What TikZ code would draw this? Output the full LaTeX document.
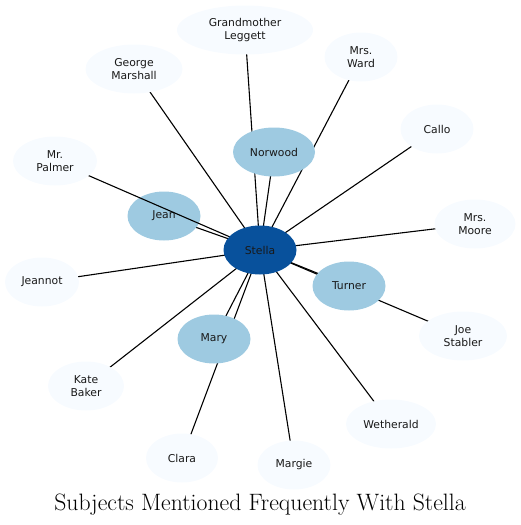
\documentclass[tikz,border=0pt]{standalone}
\usepackage{fontspec}
\newfontfamily\nodefont{DejaVu Sans}
\usetikzlibrary{shapes.geometric}
\pgfdeclarelayer{edges}
\pgfdeclarelayer{jeanlayer}
\pgfdeclarelayer{over}
\pgfsetlayers{edges,jeanlayer,over,main}
\definecolor{hubblue}{HTML}{08519C}
\definecolor{midblue}{HTML}{9ECAE1}
\definecolor{paleblue}{HTML}{F7FBFF}
\tikzset{
  person/.style={ellipse, inner sep=0pt, minimum height=49pt, align=center,
    font=\nodefont\fontsize{10.8}{12.6}\selectfont, text=black!90},
  hub/.style={person, fill=hubblue, minimum width=73pt},
  mid/.style={person, fill=midblue},
  outer/.style={person, fill=paleblue},
  link/.style={draw=black, line width=1.1pt}
}
\begin{document}
\begin{tikzpicture}[x=1pt,y=-1pt]
\useasboundingbox (0,0) rectangle (520,525);
\node[hub] (stella) at (260,250) {Stella};
\node[mid, minimum width=82pt] (norwood) at (274,152) {Norwood};
\node[mid, minimum width=73pt] (turner) at (349,286) {Turner};
\node[mid, minimum width=73pt] (mary) at (214,339) {Mary};
\node[outer, minimum width=136pt] (leggett) at (245,30) {Grandmother\\Leggett};
\node[outer, minimum width=97pt] (marshall) at (134,69) {George\\Marshall};
\node[outer, minimum width=73pt] (ward) at (361,57) {Mrs.\\Ward};
\node[outer, minimum width=73pt] (callo) at (437,129) {Callo};
\node[outer, minimum width=84pt] (palmer) at (55,161) {Mr.\\Palmer};
\node[outer, minimum width=81pt] (moore) at (475,224) {Mrs.\\Moore};
\node[outer, minimum width=74pt] (jeannot) at (42,282) {Jeannot};
\node[outer, minimum width=88pt] (stabler) at (463,336) {Joe\\Stabler};
\node[outer, minimum width=76pt] (baker) at (86,386) {Kate\\Baker};
\node[outer, minimum width=72pt] (clara) at (182,458) {Clara};
\node[outer, minimum width=73pt] (margie) at (294,465) {Margie};
\node[outer, minimum width=90pt] (wetherald) at (391,424) {Wetherald};
\node[anchor=base, font=\fontsize{23.7}{28}\selectfont] (title) at (260,510) {Subjects Mentioned Frequently With Stella};
\begin{pgfonlayer}{jeanlayer}
\node[mid, minimum width=73pt] (jean) at (164,216) {Jean};
\end{pgfonlayer}
\begin{pgfonlayer}{edges}
\foreach \n in {norwood,jean,turner,mary,leggett,marshall,ward,callo,moore,jeannot,stabler,baker,clara,margie,wetherald}
  \draw[link] (stella.center) -- (\n.center);
\end{pgfonlayer}
\begin{pgfonlayer}{over}
\draw[link] (stella.center) -- (palmer.center);
\end{pgfonlayer}
\end{tikzpicture}
\end{document}
